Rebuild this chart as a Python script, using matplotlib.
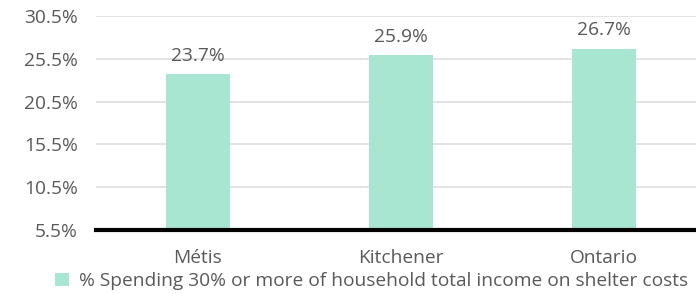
import numpy as np
import matplotlib
matplotlib.use("Agg")
import matplotlib.pyplot as plt
from matplotlib.patches import Patch

categories = ["Métis", "Kitchener", "Ontario"]
values = [23.7, 25.9, 26.7]
yticks = [5.5, 10.5, 15.5, 20.5, 25.5, 30.5]
series_name = "% Spending 30% or more of household total income on shelter costs"

bar_color = "#A9E6D2"
text_color = "#595959"

plt.rcParams['font.family'] = ['Open Sans', 'DejaVu Sans']

W, H = 696, 294
fig = plt.figure(figsize=(W / 100, H / 100), dpi=100)
ax = fig.add_axes([96 / W, (H - 230) / H, (705.5 - 96) / W, 214 / H])

x = np.arange(len(categories))
ax.bar(x, [v - yticks[0] for v in values], bottom=yticks[0], width=0.315,
       color=bar_color, zorder=2)

# value labels above the bars
for xi, v in zip(x, values):
    ax.text(xi, v + 1.1, f"{v:.1f}%", ha="center", va="bottom",
            fontsize=13.8, color=text_color)

ax.set_xlim(-0.5, 2.5)
ax.set_ylim(yticks[0], yticks[-1])
ax.set_yticks(yticks)
ax.set_yticklabels([f"{t:.1f}%" for t in yticks])
ax.set_xticks(x)
ax.set_xticklabels(categories)
ax.tick_params(axis="both", length=0, labelsize=13.8, colors=text_color)
ax.tick_params(axis="y", pad=13)
ax.tick_params(axis="x", pad=14)

ax.grid(axis="y", color="#DEDEDE", linewidth=1.2, zorder=0)
for s in ["top", "right", "left"]:
    ax.spines[s].set_visible(False)
ax.spines["bottom"].set_color("black")
ax.spines["bottom"].set_linewidth(3)
ax.spines["bottom"].set_zorder(3)

handles = [Patch(facecolor=bar_color, edgecolor="none", label=series_name)]
fig.legend(handles=handles, loc="center", bbox_to_anchor=(372 / W, 1 - 281 / H),
           frameon=False, fontsize=13.8, labelcolor=text_color,
           handlelength=0.7, handleheight=0.7, handletextpad=0.55,
           borderpad=0, borderaxespad=0)

fig.savefig("out.png", dpi=100)
